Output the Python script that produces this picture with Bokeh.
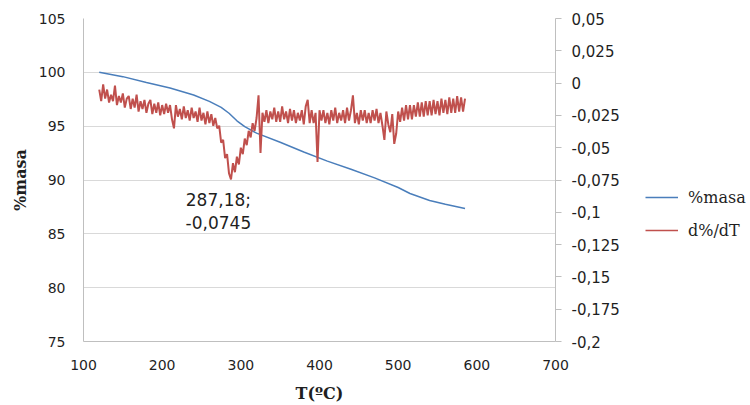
from bokeh.plotting import figure
from bokeh.layouts import row
from bokeh.models import (Range1d, LinearAxis, FixedTicker, CustomJSTickFormatter,
                          Legend, LegendItem, Label)
from bokeh.embed import file_html
from bokeh.resources import INLINE

# ---- data ----
masa_T = [120, 150, 180, 210, 240, 260, 275, 285, 295, 305, 320, 350, 380, 410,
          440, 470, 500, 515, 540, 560, 585]
masa = [100.0, 99.6, 99.05, 98.55, 97.9, 97.3, 96.75, 96.2, 95.5, 94.95, 94.35,
        93.5, 92.6, 91.75, 91.0, 90.2, 89.3, 88.75, 88.1, 87.75, 87.35]

# d%/dT sampled every 2.5 ºC from 120 ºC
deriv = [
    # 120 - 267.5
    -0.005, -0.014, -0.001, -0.012, -0.005, -0.015, -0.009, -0.014, -0.002, -0.017,
    -0.010, -0.015, -0.008, -0.019, -0.012, -0.010, -0.020, -0.012, -0.019, -0.009,
    -0.022, -0.014, -0.020, -0.013, -0.023, -0.016, -0.013, -0.024, -0.016, -0.023,
    -0.015, -0.025, -0.017, -0.024, -0.016, -0.023, -0.017, -0.028, -0.035, -0.017,
    -0.026, -0.020, -0.028, -0.018, -0.027, -0.021, -0.029, -0.019, -0.027, -0.022,
    -0.030, -0.019, -0.029, -0.023, -0.032, -0.022, -0.031, -0.024, -0.033, -0.027,
    # 270 - 330
    -0.035, -0.033, -0.046, -0.044, -0.058, -0.055, -0.070, -0.0745, -0.062, -0.069,
    -0.057, -0.063, -0.050, -0.055, -0.043, -0.048, -0.037, -0.042, -0.031, -0.037,
    -0.027, -0.0095, -0.054, -0.023, -0.030,
    # 332.5 - 500
    -0.021, -0.031, -0.022, -0.028, -0.019, -0.030, -0.022, -0.030, -0.018, -0.028,
    -0.022, -0.031, -0.020, -0.029, -0.021, -0.031, -0.023, -0.029, -0.021, -0.032,
    -0.018, -0.013, -0.031, -0.021, -0.031, -0.023, -0.061, -0.021, -0.029, -0.021,
    -0.031, -0.023, -0.032, -0.021, -0.029, -0.019, -0.031, -0.023, -0.029, -0.021,
    -0.031, -0.019, -0.029, -0.021, -0.0095, -0.031, -0.023, -0.032, -0.021, -0.029,
    -0.021, -0.031, -0.023, -0.031, -0.021, -0.029, -0.020, -0.031, -0.023, -0.033,
    -0.044, -0.022, -0.032, -0.038, -0.024, -0.047, -0.039, -0.022,
    # 502.5 - 585
    -0.030, -0.019, -0.029, -0.017, -0.028, -0.017, -0.028, -0.017, -0.026, -0.015,
    -0.026, -0.015, -0.026, -0.014, -0.025, -0.014, -0.025, -0.013, -0.024, -0.014,
    -0.025, -0.012, -0.023, -0.013, -0.024, -0.011, -0.023, -0.012, -0.023, -0.010,
    -0.022, -0.011, -0.022, -0.012,
]
deriv_T = [120 + 2.5 * i for i in range(len(deriv))]

x_ticks = [100, 200, 300, 400, 500, 600, 700]
left_ticks = [75, 80, 85, 90, 95, 100, 105]
right_ticks = [-0.2, -0.175, -0.15, -0.125, -0.1, -0.075, -0.05, -0.025, 0, 0.025, 0.05]
annot_lines = ["287,18;", "-0,0745"]
series_names = ["%masa", "d%/dT"]

BLUE = "#4A7EBB"
RED = "#C0504D"
GRID = "#D9D9D9"
TXT = "#1F1F1F"
SANS = "DejaVu Sans"
SERIF = "DejaVu Serif"

p = figure(width=635, height=405, output_backend="svg", toolbar_location=None,
           x_range=Range1d(100, 700), y_range=Range1d(75, 105),
           min_border_left=83, min_border_right=80, min_border_top=18,
           min_border_bottom=64)
p.outline_line_color = None
p.extra_y_ranges = {"d": Range1d(-0.2, 0.05)}

# axes
xa = p.xaxis[0]
xa.ticker = FixedTicker(ticks=x_ticks)
xa.axis_label = "T(ºC)"
ya = p.yaxis[0]
ya.ticker = FixedTicker(ticks=left_ticks)
ya.axis_label = "%masa"
for ax in (xa, ya):
    ax.axis_line_color = "#BFBFBF"
    ax.major_tick_line_color = None
    ax.major_tick_out = 0
    ax.major_tick_in = 0
    ax.minor_tick_line_color = None
    ax.minor_tick_out = 0
    ax.major_label_text_font = SANS
    ax.major_label_text_font_size = "14px"
    ax.major_label_text_color = TXT
    ax.axis_label_text_font = SERIF
    ax.axis_label_text_font_style = "bold"
    ax.axis_label_text_font_size = "16px"
    ax.axis_label_text_color = TXT
xa.major_label_standoff = 18
xa.axis_label_standoff = 11
ya.major_label_standoff = 18
ya.axis_label_standoff = 6

ra = LinearAxis(y_range_name="d", ticker=FixedTicker(ticks=right_ticks))
ra.formatter = CustomJSTickFormatter(code="""
    return tick.toFixed(3).replace(/0+$/, '').replace(/\\.$/, '').replace('.', ',');
""")
ra.axis_line_color = "#BFBFBF"
ra.major_tick_line_color = "#BFBFBF"
ra.major_tick_out = 6
ra.major_tick_in = 0
ra.minor_tick_line_color = None
ra.major_label_text_font = SANS
ra.major_label_text_font_size = "15px"
ra.major_label_text_color = TXT
ra.major_label_standoff = 10
p.add_layout(ra, "right")

p.xgrid.grid_line_color = None
p.ygrid.grid_line_color = GRID
p.ygrid.ticker = FixedTicker(ticks=left_ticks)

r_masa = p.line(masa_T, masa, line_color=BLUE, line_width=1.5)
r_der = p.line(deriv_T, deriv, y_range_name="d", line_color=RED, line_width=2.0)

# annotation of the minimum
for txt, yv in zip(annot_lines, [88.1, 86.05]):
    p.add_layout(Label(x=271.5, y=yv, text=txt, text_align="center",
                       text_baseline="middle", text_font=SANS,
                       text_font_size="17px", text_color=TXT))

# legend panel (separate small figure to the right, so it is not clipped).
# Its ranges keep the proxy series out of view; only the legend shows.
pl = figure(width=115, height=405, output_backend="svg", toolbar_location=None,
            x_axis_type=None, y_axis_type=None, min_border=0,
            x_range=Range1d(0, 1), y_range=Range1d(0, 1))
pl.outline_line_color = None
pl.grid.grid_line_color = None
lg_masa = pl.line(masa_T, masa, line_color=BLUE, line_width=1.5)
lg_der = pl.line(deriv_T, deriv, line_color=RED, line_width=1.5)

legend = Legend(items=[LegendItem(label=series_names[0], renderers=[lg_masa]),
                       LegendItem(label=series_names[1], renderers=[lg_der])],
                location=(10, 101), orientation="vertical")
legend.border_line_color = None
legend.background_fill_alpha = 0
legend.padding = 0
legend.margin = 0
legend.spacing = 13
legend.glyph_width = 33
legend.glyph_height = 20
legend.label_height = 20
legend.label_standoff = 10
legend.label_text_font = SERIF
legend.label_text_font_size = "16px"
legend.label_text_color = TXT
pl.add_layout(legend, "center")

layout = row(p, pl)
open("out.html", "w").write(file_html(layout, INLINE))
